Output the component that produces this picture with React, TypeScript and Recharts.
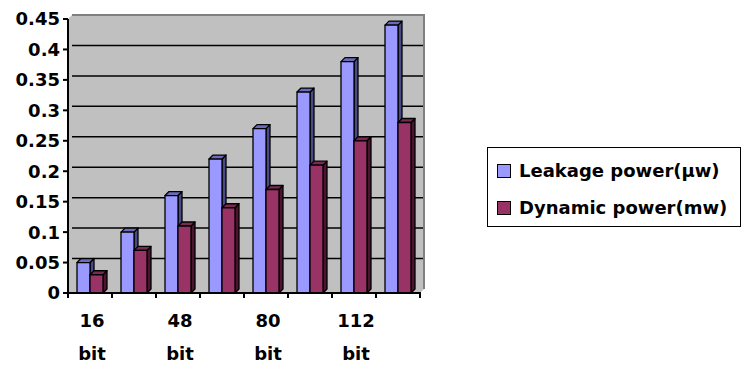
import { Bar, BarChart, Legend, XAxis, YAxis } from 'recharts';

const categories = ['16 bit', '32 bit', '48 bit', '64 bit', '80 bit', '96 bit', '112 bit', '128 bit'];
const leakage = [0.05, 0.1, 0.16, 0.22, 0.27, 0.33, 0.38, 0.44];
const dynamic = [0.03, 0.07, 0.11, 0.14, 0.17, 0.21, 0.25, 0.28];
const yTicks = [0, 0.05, 0.1, 0.15, 0.2, 0.25, 0.3, 0.35, 0.4, 0.45];
const yLabels = ['0', '0.05', '0.1', '0.15', '0.2', '0.25', '0.3', '0.35', '0.4', '0.45'];

const series = [
	{ key: 'leakage', name: 'Leakage power(µw)', front: '#9999ff', top: '#6b6bb8', side: '#4a4a86' },
	{ key: 'dynamic', name: 'Dynamic power(mw)', front: '#993366', top: '#7a2951', side: '#4a1530' },
];

const data = categories.map((name, i) => ({
	name,
	leakage: leakage[i],
	dynamic: dynamic[i],
}));

const FONT = '"DejaVu Sans", sans-serif';
const D = 4;
const HALF = 22;
const Y_MAX = yTicks[yTicks.length - 1];
const TOP = 19;
const PLOT_H = 274;
const PLOT_L = 68;
const PLOT_R = 420;

// back-wall gridlines, one 3D depth up and to the right of the axis ticks
const wallYs = yTicks.slice(1, -1).map((v) => TOP + PLOT_H * (1 - v / Y_MAX) - D);

function Box3D(props: any) {
	const { x, y, width: w, height: h, front, top, side } = props;
	if (h == null || h <= 0) return null;
	return (
		<g stroke="#000" strokeWidth={1.3} strokeLinejoin="round">
			<polygon points={`${x + w},${y} ${x + w + D},${y - D} ${x + w + D},${y + h - D} ${x + w},${y + h}`} fill={side} />
			<polygon points={`${x},${y} ${x + D},${y - D} ${x + w + D},${y - D} ${x + w},${y}`} fill={top} />
			<rect x={x} y={y} width={w} height={h} fill={front} />
		</g>
	);
}

function XTick(props: any) {
	const { x, y, payload, index } = props;
	const parts = String(payload.value).split(' ');
	const last = index === categories.length - 1;
	return (
		<g>
			<line x1={x - HALF} y1={y - 1} x2={x - HALF} y2={y + 5} stroke="#000" strokeWidth={2} />
			{last && <line x1={x + HALF} y1={y - 1} x2={x + HALF} y2={y + 5} stroke="#000" strokeWidth={2} />}
			{index % 2 === 0 && (
				<text textAnchor="middle" fontFamily={FONT} fontWeight="bold" fontSize={18} fill="#000">
					<tspan x={x + 2} y={y + 34}>{parts[0]}</tspan>
					<tspan x={x + 2} y={y + 67}>{parts[1]}</tspan>
				</text>
			)}
		</g>
	);
}

function LegendBox() {
	return (
		<div
			style={{
				border: '1.5px solid #000',
				boxSizing: 'border-box',
				width: 254,
				height: 80,
				padding: '4px 0 0 9px',
				fontFamily: FONT,
				fontWeight: 'bold',
				fontSize: 18,
				color: '#000',
				background: '#fff',
			}}
		>
			{series.map((s) => (
				<div key={s.key} style={{ display: 'flex', alignItems: 'center', height: 37 }}>
					<span
						style={{
							display: 'inline-block',
							width: 12,
							height: 12,
							background: s.front,
							border: '1.5px solid #000',
							marginRight: 8,
						}}
					/>
					<span style={{ whiteSpace: 'nowrap' }}>{s.name}</span>
				</div>
			))}
		</div>
	);
}

export default function App() {
	return (
		<div style={{ position: 'absolute', left: 0, top: 0, width: 743, height: 365, background: '#fff' }}>
			<svg width={743} height={365} style={{ position: 'absolute', left: 0, top: 0 }}>
				<polygon points="72,15 424,15 424,289 420,293 68,293 68,19" fill="#c0c0c0" />
				{wallYs.map((y) => (
					<line key={y} x1={PLOT_L + D} y1={y} x2={PLOT_R + D} y2={y} stroke="#000" strokeWidth={1.5} />
				))}
				<polyline points="72,15 424,15 424,289" fill="none" stroke="#808080" strokeWidth={2} />
			</svg>
			<div style={{ position: 'absolute', left: 0, top: 0 }}>
				<BarChart
					width={743}
					height={365}
					data={data}
					margin={{ top: TOP, right: 743 - PLOT_R, bottom: 0, left: 0 }}
					barGap={0}
					barSize={13}
				>
					<YAxis
						width={PLOT_L}
						domain={[0, Y_MAX]}
						ticks={yTicks}
						interval={0}
						tickFormatter={(v: number) => yLabels[yTicks.indexOf(v)] ?? String(v)}
						axisLine={{ stroke: '#000', strokeWidth: 2 }}
						tickLine={{ stroke: '#000', strokeWidth: 2 }}
						tickSize={5}
						tickMargin={3}
						tick={{ fill: '#000', fontFamily: FONT, fontWeight: 'bold', fontSize: 18 }}
					/>
					<XAxis
						dataKey="name"
						height={365 - TOP - PLOT_H}
						interval={0}
						axisLine={{ stroke: '#000', strokeWidth: 2 }}
						tickLine={false}
						tickSize={0}
						tickMargin={0}
						tick={<XTick />}
					/>
					<Legend
						layout="vertical"
						align="center"
						verticalAlign="middle"
						content={<LegendBox />}
						wrapperStyle={{ left: 487, top: 147, width: 254, height: 80 }}
					/>
					{series.map((s) => (
						<Bar
							key={s.key}
							dataKey={s.key}
							name={s.name}
							fill={s.front}
							isAnimationActive={false}
							shape={(p: any) => <Box3D {...p} front={s.front} top={s.top} side={s.side} />}
						/>
					))}
				</BarChart>
			</div>
		</div>
	);
}
